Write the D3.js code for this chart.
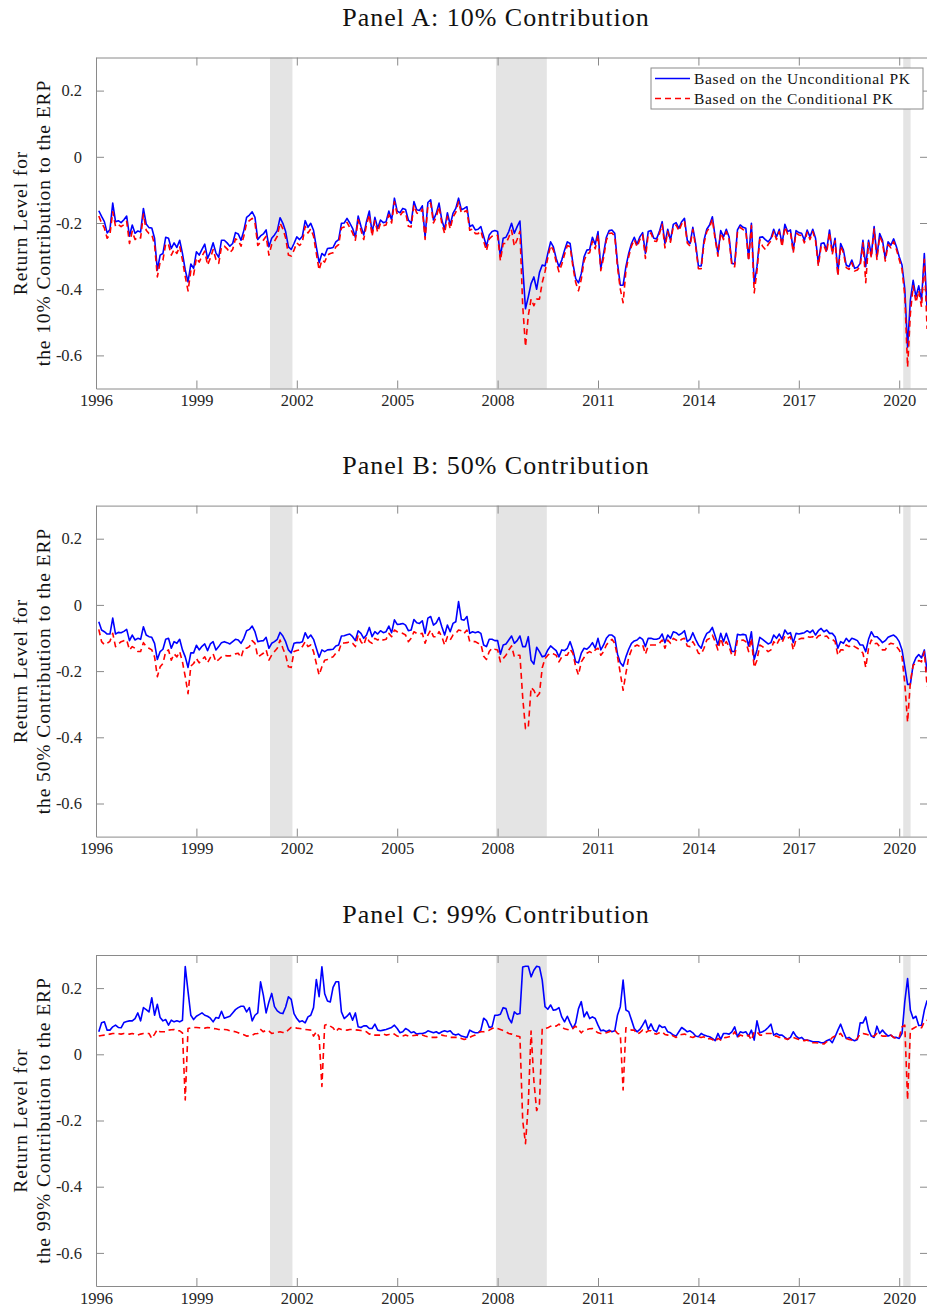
<!DOCTYPE html>
<html>
<head>
<meta charset="utf-8">
<script src="https://cdn.jsdelivr.net/npm/d3@7"></script>
<style>
  body { margin: 0; background: #ffffff; }
  svg { display: block; font-family: "Liberation Serif", "Times New Roman", serif; }
</style>
</head>
<body>
<svg id="chart" width="927" height="1312"></svg>
<script>
// Monthly observations, January 1996 through October 2020
const firstYear = 1996;
const xTickYears = [1996, 1999, 2002, 2005, 2008, 2011, 2014, 2017, 2020];
const yTickValues = [-0.6, -0.4, -0.2, 0, 0.2];
// NBER recession periods (decimal years)
const recessions = [[2001.2, 2001.87], [2007.95, 2009.47], [2020.12, 2020.34]];
const panelTitles = ["Panel A: 10% Contribution", "Panel B: 50% Contribution", "Panel C: 99% Contribution"];
const contributionShares = ["10%", "50%", "99%"];
const seriesNames = ["Based on the Unconditional PK", "Based on the Conditional PK"];

// Panel A: 10% contribution
const uncond10 = [
  -0.163,-0.180,-0.196,-0.230,-0.220,-0.140,-0.196,-0.193,-0.199,-0.190,-0.179,-0.240,
  -0.206,-0.231,-0.224,-0.227,-0.156,-0.203,-0.214,-0.215,-0.246,-0.342,-0.297,-0.292,
  -0.243,-0.246,-0.277,-0.260,-0.274,-0.252,-0.292,-0.342,-0.378,-0.324,-0.337,-0.287,
  -0.297,-0.280,-0.264,-0.307,-0.287,-0.260,-0.290,-0.304,-0.252,-0.252,-0.260,-0.270,
  -0.262,-0.229,-0.233,-0.252,-0.223,-0.183,-0.176,-0.166,-0.183,-0.250,-0.239,-0.233,
  -0.221,-0.272,-0.246,-0.236,-0.223,-0.184,-0.201,-0.226,-0.272,-0.280,-0.262,-0.242,
  -0.250,-0.240,-0.193,-0.213,-0.201,-0.222,-0.272,-0.320,-0.292,-0.299,-0.277,-0.276,
  -0.274,-0.257,-0.250,-0.201,-0.200,-0.186,-0.200,-0.216,-0.243,-0.179,-0.210,-0.236,
  -0.195,-0.164,-0.230,-0.183,-0.216,-0.191,-0.199,-0.196,-0.164,-0.191,-0.125,-0.164,
  -0.169,-0.156,-0.159,-0.191,-0.201,-0.135,-0.160,-0.162,-0.148,-0.241,-0.138,-0.130,
  -0.191,-0.171,-0.140,-0.191,-0.219,-0.169,-0.206,-0.171,-0.156,-0.125,-0.160,-0.156,
  -0.151,-0.211,-0.206,-0.221,-0.219,-0.211,-0.241,-0.270,-0.236,-0.226,-0.223,-0.226,
  -0.302,-0.246,-0.243,-0.226,-0.201,-0.231,-0.211,-0.194,-0.332,-0.459,-0.423,-0.383,
  -0.363,-0.400,-0.350,-0.327,-0.330,-0.292,-0.257,-0.272,-0.307,-0.332,-0.312,-0.282,
  -0.257,-0.262,-0.322,-0.368,-0.381,-0.353,-0.302,-0.282,-0.280,-0.243,-0.265,-0.226,
  -0.337,-0.292,-0.243,-0.223,-0.221,-0.231,-0.322,-0.388,-0.388,-0.332,-0.292,-0.262,
  -0.243,-0.264,-0.242,-0.229,-0.292,-0.226,-0.223,-0.246,-0.248,-0.226,-0.196,-0.262,
  -0.219,-0.252,-0.204,-0.199,-0.216,-0.196,-0.186,-0.252,-0.262,-0.213,-0.262,-0.330,
  -0.330,-0.252,-0.219,-0.206,-0.181,-0.242,-0.292,-0.223,-0.242,-0.219,-0.242,-0.322,
  -0.324,-0.221,-0.206,-0.213,-0.216,-0.307,-0.201,-0.383,-0.332,-0.243,-0.242,-0.250,
  -0.257,-0.246,-0.219,-0.242,-0.219,-0.264,-0.204,-0.226,-0.221,-0.282,-0.223,-0.229,
  -0.231,-0.252,-0.221,-0.242,-0.219,-0.246,-0.322,-0.262,-0.260,-0.282,-0.221,-0.287,
  -0.246,-0.352,-0.262,-0.282,-0.327,-0.332,-0.312,-0.337,-0.334,-0.322,-0.252,-0.332,
  -0.252,-0.297,-0.211,-0.302,-0.232,-0.252,-0.307,-0.257,-0.267,-0.248,-0.272,-0.302,
  -0.327,-0.400,-0.575,-0.433,-0.373,-0.423,-0.390,-0.434,-0.292,-0.464
];
const cond10 = [
  -0.179,-0.200,-0.215,-0.246,-0.235,-0.166,-0.210,-0.205,-0.211,-0.205,-0.195,-0.262,
  -0.225,-0.250,-0.242,-0.245,-0.173,-0.222,-0.232,-0.235,-0.265,-0.363,-0.318,-0.312,
  -0.262,-0.265,-0.297,-0.280,-0.292,-0.270,-0.312,-0.362,-0.405,-0.345,-0.357,-0.306,
  -0.318,-0.300,-0.285,-0.327,-0.306,-0.280,-0.310,-0.322,-0.272,-0.270,-0.278,-0.290,
  -0.280,-0.248,-0.252,-0.270,-0.240,-0.200,-0.193,-0.186,-0.200,-0.268,-0.258,-0.252,
  -0.240,-0.297,-0.265,-0.255,-0.240,-0.200,-0.218,-0.245,-0.297,-0.300,-0.282,-0.260,
  -0.268,-0.258,-0.210,-0.230,-0.218,-0.240,-0.292,-0.342,-0.312,-0.318,-0.297,-0.292,
  -0.290,-0.272,-0.265,-0.215,-0.212,-0.198,-0.214,-0.230,-0.252,-0.190,-0.222,-0.250,
  -0.205,-0.175,-0.240,-0.193,-0.228,-0.201,-0.208,-0.206,-0.175,-0.200,-0.136,-0.174,
  -0.178,-0.166,-0.168,-0.210,-0.212,-0.146,-0.170,-0.172,-0.158,-0.250,-0.148,-0.140,
  -0.200,-0.182,-0.150,-0.202,-0.232,-0.180,-0.218,-0.182,-0.168,-0.136,-0.170,-0.166,
  -0.162,-0.222,-0.218,-0.232,-0.232,-0.224,-0.255,-0.284,-0.248,-0.240,-0.236,-0.238,
  -0.314,-0.262,-0.262,-0.243,-0.222,-0.270,-0.250,-0.225,-0.450,-0.573,-0.480,-0.430,
  -0.450,-0.430,-0.430,-0.380,-0.347,-0.305,-0.268,-0.282,-0.318,-0.347,-0.325,-0.295,
  -0.268,-0.272,-0.332,-0.380,-0.405,-0.370,-0.315,-0.293,-0.290,-0.255,-0.278,-0.236,
  -0.344,-0.305,-0.252,-0.232,-0.230,-0.240,-0.335,-0.400,-0.441,-0.345,-0.302,-0.270,
  -0.250,-0.272,-0.250,-0.236,-0.307,-0.234,-0.230,-0.254,-0.256,-0.233,-0.204,-0.275,
  -0.226,-0.258,-0.210,-0.206,-0.224,-0.203,-0.193,-0.260,-0.270,-0.220,-0.270,-0.338,
  -0.338,-0.262,-0.226,-0.214,-0.188,-0.250,-0.300,-0.230,-0.250,-0.226,-0.250,-0.330,
  -0.332,-0.228,-0.213,-0.220,-0.224,-0.315,-0.208,-0.411,-0.345,-0.250,-0.270,-0.280,
  -0.265,-0.254,-0.226,-0.250,-0.226,-0.272,-0.212,-0.233,-0.228,-0.290,-0.230,-0.236,
  -0.238,-0.260,-0.228,-0.250,-0.226,-0.254,-0.330,-0.270,-0.268,-0.290,-0.228,-0.295,
  -0.254,-0.360,-0.270,-0.290,-0.335,-0.340,-0.320,-0.345,-0.342,-0.330,-0.260,-0.380,
  -0.260,-0.305,-0.218,-0.310,-0.240,-0.260,-0.315,-0.265,-0.275,-0.256,-0.280,-0.310,
  -0.340,-0.420,-0.635,-0.474,-0.390,-0.440,-0.405,-0.454,-0.310,-0.520
];

// Panel B: 50% contribution
const uncond50 = [
  -0.051,-0.076,-0.081,-0.088,-0.088,-0.040,-0.088,-0.083,-0.084,-0.080,-0.074,-0.108,
  -0.091,-0.106,-0.101,-0.104,-0.066,-0.091,-0.096,-0.098,-0.116,-0.165,-0.141,-0.134,
  -0.104,-0.101,-0.131,-0.111,-0.116,-0.104,-0.136,-0.157,-0.189,-0.145,-0.145,-0.122,
  -0.136,-0.125,-0.118,-0.138,-0.118,-0.111,-0.136,-0.126,-0.114,-0.111,-0.114,-0.118,
  -0.111,-0.104,-0.106,-0.116,-0.101,-0.078,-0.074,-0.064,-0.081,-0.111,-0.109,-0.108,
  -0.098,-0.131,-0.116,-0.111,-0.104,-0.083,-0.094,-0.111,-0.136,-0.145,-0.116,-0.114,
  -0.114,-0.111,-0.084,-0.101,-0.091,-0.104,-0.131,-0.158,-0.136,-0.141,-0.136,-0.135,
  -0.134,-0.124,-0.121,-0.094,-0.093,-0.090,-0.088,-0.096,-0.108,-0.078,-0.086,-0.101,
  -0.091,-0.068,-0.096,-0.081,-0.088,-0.078,-0.084,-0.081,-0.064,-0.084,-0.045,-0.059,
  -0.058,-0.056,-0.061,-0.078,-0.076,-0.044,-0.054,-0.056,-0.048,-0.086,-0.040,-0.035,
  -0.061,-0.054,-0.038,-0.066,-0.091,-0.061,-0.081,-0.056,-0.051, 0.010,-0.044,-0.046,
  -0.035,-0.086,-0.081,-0.084,-0.081,-0.086,-0.121,-0.126,-0.104,-0.104,-0.108,-0.108,
  -0.149,-0.121,-0.118,-0.106,-0.094,-0.116,-0.108,-0.094,-0.126,-0.126,-0.096,-0.167,
  -0.179,-0.128,-0.141,-0.157,-0.154,-0.136,-0.124,-0.131,-0.138,-0.157,-0.136,-0.138,
  -0.131,-0.111,-0.136,-0.172,-0.175,-0.146,-0.131,-0.134,-0.126,-0.114,-0.131,-0.101,
  -0.136,-0.121,-0.101,-0.091,-0.091,-0.098,-0.149,-0.175,-0.185,-0.157,-0.134,-0.116,
  -0.109,-0.106,-0.098,-0.104,-0.126,-0.101,-0.101,-0.104,-0.104,-0.101,-0.088,-0.114,
  -0.091,-0.101,-0.081,-0.084,-0.091,-0.086,-0.078,-0.111,-0.104,-0.084,-0.104,-0.121,
  -0.131,-0.104,-0.086,-0.081,-0.068,-0.094,-0.121,-0.086,-0.111,-0.086,-0.111,-0.141,
  -0.141,-0.089,-0.091,-0.089,-0.091,-0.124,-0.081,-0.165,-0.136,-0.098,-0.104,-0.111,
  -0.118,-0.114,-0.091,-0.101,-0.088,-0.104,-0.076,-0.088,-0.084,-0.114,-0.086,-0.088,
  -0.086,-0.084,-0.078,-0.084,-0.076,-0.091,-0.078,-0.071,-0.081,-0.076,-0.086,-0.086,
  -0.096,-0.131,-0.111,-0.116,-0.101,-0.111,-0.101,-0.104,-0.108,-0.121,-0.121,-0.141,
  -0.104,-0.081,-0.096,-0.096,-0.104,-0.114,-0.108,-0.098,-0.094,-0.091,-0.098,-0.111,
  -0.136,-0.187,-0.240,-0.240,-0.180,-0.160,-0.150,-0.160,-0.136,-0.200
];
const cond50 = [
  -0.074,-0.111,-0.120,-0.116,-0.110,-0.086,-0.126,-0.118,-0.111,-0.108,-0.106,-0.136,
  -0.126,-0.131,-0.141,-0.141,-0.114,-0.126,-0.131,-0.136,-0.157,-0.217,-0.187,-0.177,
  -0.141,-0.136,-0.167,-0.148,-0.157,-0.141,-0.172,-0.217,-0.268,-0.185,-0.177,-0.162,
  -0.175,-0.165,-0.157,-0.175,-0.159,-0.148,-0.172,-0.165,-0.157,-0.152,-0.154,-0.154,
  -0.152,-0.148,-0.146,-0.159,-0.131,-0.131,-0.126,-0.108,-0.116,-0.157,-0.152,-0.146,
  -0.136,-0.167,-0.152,-0.141,-0.131,-0.106,-0.131,-0.152,-0.187,-0.189,-0.141,-0.138,
  -0.136,-0.126,-0.111,-0.126,-0.121,-0.141,-0.177,-0.212,-0.187,-0.167,-0.165,-0.160,
  -0.157,-0.146,-0.141,-0.116,-0.115,-0.114,-0.111,-0.116,-0.126,-0.091,-0.111,-0.121,
  -0.096,-0.111,-0.116,-0.101,-0.106,-0.101,-0.106,-0.104,-0.086,-0.096,-0.076,-0.081,
  -0.084,-0.086,-0.091,-0.111,-0.101,-0.081,-0.086,-0.088,-0.086,-0.116,-0.091,-0.076,
  -0.096,-0.096,-0.081,-0.096,-0.121,-0.096,-0.106,-0.091,-0.086,-0.076,-0.078,-0.086,
  -0.076,-0.111,-0.111,-0.111,-0.116,-0.118,-0.155,-0.165,-0.141,-0.131,-0.134,-0.136,
  -0.172,-0.162,-0.152,-0.136,-0.124,-0.157,-0.152,-0.152,-0.280,-0.374,-0.370,-0.250,
  -0.258,-0.278,-0.268,-0.190,-0.162,-0.152,-0.146,-0.148,-0.152,-0.172,-0.157,-0.152,
  -0.152,-0.134,-0.146,-0.187,-0.212,-0.172,-0.159,-0.146,-0.141,-0.146,-0.136,-0.131,
  -0.152,-0.141,-0.121,-0.111,-0.104,-0.116,-0.157,-0.207,-0.258,-0.207,-0.158,-0.136,
  -0.126,-0.121,-0.126,-0.121,-0.149,-0.124,-0.121,-0.121,-0.121,-0.116,-0.106,-0.131,
  -0.106,-0.116,-0.101,-0.106,-0.111,-0.104,-0.101,-0.124,-0.126,-0.111,-0.126,-0.146,
  -0.149,-0.131,-0.106,-0.101,-0.091,-0.111,-0.136,-0.101,-0.126,-0.111,-0.126,-0.152,
  -0.154,-0.106,-0.108,-0.106,-0.111,-0.141,-0.101,-0.189,-0.167,-0.121,-0.126,-0.134,
  -0.141,-0.136,-0.111,-0.121,-0.104,-0.114,-0.094,-0.101,-0.096,-0.136,-0.104,-0.104,
  -0.101,-0.101,-0.096,-0.098,-0.096,-0.104,-0.094,-0.091,-0.096,-0.094,-0.104,-0.104,
  -0.111,-0.152,-0.136,-0.136,-0.121,-0.126,-0.121,-0.126,-0.131,-0.136,-0.146,-0.189,
  -0.131,-0.106,-0.118,-0.116,-0.126,-0.136,-0.136,-0.121,-0.116,-0.118,-0.126,-0.136,
  -0.157,-0.237,-0.354,-0.232,-0.182,-0.177,-0.168,-0.172,-0.141,-0.247
];

// Panel C: 99% contribution
const uncond99 = [
  0.068,0.095,0.098,0.073,0.073,0.083,0.088,0.081,0.080,0.096,0.099,0.101,
  0.101,0.108,0.125,0.101,0.141,0.135,0.128,0.171,0.118,0.151,0.111,0.101,
  0.105,0.088,0.103,0.098,0.101,0.098,0.103,0.265,0.190,0.118,0.105,0.115,
  0.120,0.125,0.118,0.115,0.109,0.098,0.111,0.109,0.130,0.109,0.112,0.115,
  0.125,0.135,0.141,0.145,0.145,0.128,0.141,0.101,0.118,0.125,0.219,0.179,
  0.125,0.158,0.184,0.144,0.131,0.125,0.123,0.143,0.174,0.166,0.123,0.108,
  0.098,0.101,0.095,0.113,0.118,0.141,0.226,0.174,0.264,0.183,0.161,0.158,
  0.202,0.219,0.219,0.128,0.108,0.115,0.125,0.103,0.125,0.083,0.081,0.086,
  0.086,0.078,0.078,0.091,0.073,0.071,0.073,0.075,0.078,0.081,0.088,0.078,
  0.065,0.068,0.078,0.073,0.065,0.068,0.061,0.063,0.063,0.065,0.071,0.068,
  0.065,0.068,0.063,0.068,0.071,0.068,0.071,0.061,0.058,0.061,0.055,0.053,
  0.051,0.073,0.068,0.065,0.065,0.073,0.109,0.102,0.081,0.083,0.118,0.118,
  0.121,0.141,0.138,0.109,0.095,0.128,0.121,0.123,0.264,0.266,0.266,0.234,
  0.254,0.266,0.264,0.224,0.144,0.136,0.149,0.133,0.135,0.141,0.113,0.098,
  0.115,0.095,0.078,0.095,0.138,0.159,0.113,0.128,0.108,0.113,0.108,0.088,
  0.071,0.073,0.068,0.073,0.068,0.071,0.119,0.144,0.224,0.134,0.129,0.104,
  0.078,0.068,0.075,0.088,0.103,0.075,0.092,0.073,0.068,0.088,0.081,0.083,
  0.068,0.065,0.058,0.055,0.068,0.081,0.075,0.068,0.071,0.065,0.055,0.053,
  0.063,0.058,0.055,0.053,0.048,0.041,0.063,0.045,0.063,0.063,0.061,0.068,
  0.083,0.053,0.068,0.065,0.068,0.055,0.073,0.043,0.101,0.065,0.068,0.073,
  0.081,0.091,0.058,0.063,0.058,0.058,0.051,0.045,0.051,0.068,0.055,0.048,
  0.051,0.043,0.043,0.041,0.038,0.038,0.038,0.035,0.035,0.041,0.045,0.035,
  0.053,0.073,0.091,0.068,0.048,0.051,0.045,0.041,0.045,0.095,0.095,0.113,
  0.073,0.055,0.051,0.085,0.063,0.073,0.063,0.055,0.058,0.051,0.051,0.048,
  0.063,0.159,0.229,0.133,0.108,0.115,0.087,0.088,0.133,0.163
];
const cond99 = [
  0.055,0.057,0.058,0.058,0.061,0.063,0.063,0.062,0.061,0.063,0.062,0.061,
  0.063,0.060,0.058,0.061,0.063,0.063,0.063,0.048,0.061,0.075,0.068,0.068,
  0.068,0.073,0.074,0.075,0.071,0.071,0.065,-0.138,0.078,0.080,0.081,0.081,
  0.080,0.078,0.079,0.081,0.080,0.078,0.077,0.075,0.075,0.075,0.074,0.071,
  0.070,0.068,0.065,0.061,0.059,0.055,0.056,0.058,0.062,0.063,0.075,0.068,
  0.073,0.070,0.063,0.065,0.066,0.068,0.066,0.065,0.074,0.081,0.081,0.079,
  0.078,0.077,0.075,0.074,0.073,0.055,0.068,0.053,-0.097,0.088,0.091,0.085,
  0.080,0.068,0.078,0.075,0.074,0.073,0.075,0.075,0.074,0.073,0.072,0.070,
  0.068,0.061,0.063,0.058,0.058,0.058,0.061,0.058,0.060,0.063,0.061,0.055,
  0.053,0.055,0.058,0.055,0.055,0.057,0.058,0.055,0.058,0.055,0.053,0.051,
  0.051,0.051,0.055,0.058,0.056,0.055,0.051,0.051,0.051,0.051,0.048,0.045,
  0.047,0.051,0.055,0.058,0.065,0.068,0.068,0.070,0.073,0.078,0.081,0.078,
  0.075,0.072,0.068,0.063,0.061,0.058,0.055,0.053,-0.200,-0.270,-0.150,0.070,
  -0.080,-0.170,-0.150,0.078,0.078,0.080,0.085,0.088,0.085,0.091,0.083,0.077,
  0.075,0.073,0.078,0.085,0.075,0.065,0.073,0.075,0.077,0.078,0.071,0.065,
  0.063,0.063,0.065,0.068,0.071,0.073,0.063,0.060,-0.108,0.080,0.078,0.073,
  0.073,0.061,0.065,0.073,0.065,0.071,0.071,0.063,0.061,0.065,0.068,0.060,
  0.058,0.061,0.055,0.051,0.058,0.060,0.061,0.058,0.053,0.051,0.055,0.052,
  0.051,0.053,0.045,0.048,0.045,0.038,0.048,0.043,0.050,0.051,0.053,0.055,
  0.068,0.051,0.058,0.055,0.053,0.058,0.043,0.068,0.068,0.058,0.058,0.063,
  0.063,0.063,0.055,0.055,0.051,0.050,0.048,0.045,0.051,0.051,0.048,0.045,
  0.043,0.041,0.043,0.038,0.035,0.035,0.034,0.033,0.031,0.038,0.041,0.051,
  0.055,0.058,0.063,0.051,0.048,0.045,0.043,0.041,0.048,0.061,0.063,0.061,
  0.058,0.055,0.055,0.063,0.058,0.055,0.055,0.055,0.058,0.051,0.048,0.051,
  0.083,0.088,-0.138,0.073,0.078,0.083,0.081,0.080,0.098,0.103
];

const panels = [
  { title: panelTitles[0], share: contributionShares[0], uncond: uncond10, cond: cond10, top: 57.5, legend: true },
  { title: panelTitles[1], share: contributionShares[1], uncond: uncond50, cond: cond50, top: 505.6, legend: false },
  { title: panelTitles[2], share: contributionShares[2], uncond: uncond99, cond: cond99, top: 955, legend: false }
];

const svg = d3.select("#chart");
const serifStack = '"Liberation Serif", "Times New Roman", serif';
const plotLeft = 96, plotRight = 928, plotHeight = 331;
const axisColor = "#8a8a8a", textColor = "#262626";
const tickLen = 8;

// month index k -> decimal year (first observation = January 1996)
const monthTime = k => firstYear + (k + 1) / 12;

const x = d3.scaleLinear().domain([1996, 2020.86]).range([plotLeft, plotRight]);

panels.forEach((p, pi) => {
  const y = d3.scaleLinear().domain([-0.7, 0.3]).range([p.top + plotHeight, p.top]);
  const g = svg.append("g");

  const clipId = "clip" + pi;
  g.append("clipPath").attr("id", clipId)
    .append("rect")
    .attr("x", plotLeft).attr("y", p.top)
    .attr("width", plotRight - plotLeft).attr("height", plotHeight);

  // recession shading
  g.append("g").selectAll("rect").data(recessions).join("rect")
    .attr("x", d => x(d[0]))
    .attr("width", d => x(d[1]) - x(d[0]))
    .attr("y", p.top).attr("height", plotHeight)
    .attr("fill", "#e4e4e4");

  // axes frame with inward ticks on all sides
  const bottomAxis = d3.axisBottom(x).tickValues(xTickYears).tickFormat(d3.format("d"))
    .tickSizeInner(-tickLen).tickSizeOuter(0).tickPadding(6);
  const topAxis = d3.axisTop(x).tickValues(xTickYears).tickFormat("")
    .tickSizeInner(-tickLen).tickSizeOuter(0);
  const leftAxis = d3.axisLeft(y).tickValues(yTickValues)
    .tickFormat(v => v === 0 ? "0" : v.toFixed(1))
    .tickSizeInner(-tickLen).tickSizeOuter(0).tickPadding(14);
  const rightAxis = d3.axisRight(y).tickValues(yTickValues).tickFormat("")
    .tickSizeInner(-tickLen).tickSizeOuter(0);

  const styleAxis = sel => {
    sel.attr("font-family", serifStack).attr("font-size", 16.5);
    sel.selectAll("path.domain").attr("stroke", axisColor).attr("stroke-width", 1);
    sel.selectAll(".tick line").attr("stroke", axisColor).attr("stroke-width", 1);
    sel.selectAll(".tick text").attr("fill", textColor);
  };

  g.append("g").attr("transform", `translate(0,${p.top + plotHeight})`).call(bottomAxis).call(styleAxis);
  g.append("g").attr("transform", `translate(0,${p.top})`).call(topAxis).call(styleAxis);
  g.append("g").attr("transform", `translate(${plotLeft},0)`).call(leftAxis).call(styleAxis);
  g.append("g").attr("transform", `translate(${plotRight},0)`).call(rightAxis).call(styleAxis);

  // series
  const line = d3.line().x((d, k) => x(monthTime(k))).y(d => y(d));
  const lines = g.append("g").attr("clip-path", `url(#${clipId})`);
  lines.append("path").datum(p.uncond)
    .attr("d", line).attr("fill", "none")
    .attr("stroke", "#0000ff").attr("stroke-width", 1.6)
    .attr("stroke-linejoin", "round");
  lines.append("path").datum(p.cond)
    .attr("d", line).attr("fill", "none")
    .attr("stroke", "#ff0000").attr("stroke-width", 1.6)
    .attr("stroke-dasharray", "6,4")
    .attr("stroke-linejoin", "round");

  // panel title
  g.append("text")
    .attr("x", 496).attr("y", p.top - 32)
    .attr("text-anchor", "middle")
    .attr("fill", "#111")
    .attr("font-family", serifStack)
    .style("font-size", "26px")
    .style("letter-spacing", "1px")
    .text(p.title);

  // y-axis label (two lines)
  const cy = p.top + plotHeight / 2;
  const ylab = g.append("text")
    .attr("transform", `translate(0,${cy}) rotate(-90)`)
    .attr("text-anchor", "middle")
    .attr("fill", "#111")
    .attr("font-family", serifStack)
    .style("font-size", "19.5px")
    .style("letter-spacing", "0.9px");
  ylab.append("tspan").attr("x", 0).attr("y", 27).text("Return Level for");
  ylab.append("tspan").attr("x", 0).attr("y", 50).text(`the ${p.share} Contribution to the ERP`);

  // legend
  if (p.legend) {
    const lg = g.append("g");
    lg.append("rect")
      .attr("x", 651).attr("y", 68).attr("width", 272).attr("height", 41)
      .attr("fill", "#ffffff").attr("stroke", "#8a8a8a").attr("stroke-width", 1);
    const entries = [
      { name: seriesNames[0], color: "#0000ff", dash: null, yy: 78.5 },
      { name: seriesNames[1], color: "#ff0000", dash: "6,4", yy: 98.5 }
    ];
    entries.forEach(e => {
      lg.append("line")
        .attr("x1", 655).attr("x2", 690).attr("y1", e.yy).attr("y2", e.yy)
        .attr("stroke", e.color).attr("stroke-width", 1.6)
        .attr("stroke-dasharray", e.dash);
      lg.append("text")
        .attr("x", 694).attr("y", e.yy + 5)
        .attr("fill", "#111")
        .attr("font-family", serifStack)
        .style("font-size", "15.5px")
        .style("letter-spacing", "0.7px")
        .text(e.name);
    });
  }
});
</script>
</body>
</html>
